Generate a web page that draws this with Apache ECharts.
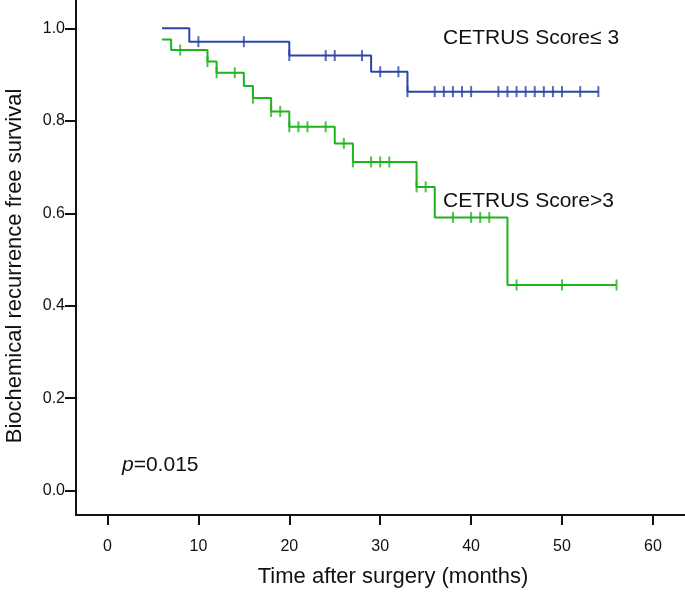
<!DOCTYPE html>
<html>
<head>
<meta charset="utf-8">
<script src="https://cdn.jsdelivr.net/npm/echarts@6/dist/echarts.min.js"></script>
<style>
html,body{margin:0;padding:0;background:#fff;}
#chart{width:685px;height:592px;}
</style>
</head>
<body>
<div id="chart"></div>
<script>
// ---- Data ----
const xTickValues = [0, 10, 20, 30, 40, 50, 60];
const yTickValues = [0, 0.2, 0.4, 0.6, 0.8, 1.0];

// CETRUS Score <= 3 (blue)
const lowStart = 6;
const lowStartSurv = 1.0;
const lowEventTimes = [9, 20, 29, 33];
const lowEventSurv = [0.971, 0.941, 0.906, 0.863];
const lowEnd = 54;
const lowCensorTimes = [10, 15, 20, 24, 25, 28, 30, 32, 33, 36, 37, 38, 39, 40, 43, 44, 45, 46, 47, 48, 49, 50, 52, 54];

// CETRUS Score > 3 (green)
const highStart = 6;
const highStartSurv = 0.976;
const highEventTimes = [7, 11, 12, 15, 16, 18, 20, 25, 27, 34, 36, 44];
const highEventSurv = [0.953, 0.928, 0.904, 0.875, 0.849, 0.820, 0.787, 0.751, 0.711, 0.657, 0.591, 0.445];
const highEnd = 56;
const highCensorTimes = [8, 11, 12, 14, 16, 18, 19, 20, 21, 22, 24, 26, 27, 29, 30, 31, 34, 35, 38, 40, 41, 42, 45, 50, 56];

// ---- Helpers ----
function stepPoints(start, s0, times, surv, end) {
  const pts = [[start, s0]];
  let prev = s0;
  for (let i = 0; i < times.length; i++) {
    pts.push([times[i], prev]);
    pts.push([times[i], surv[i]]);
    prev = surv[i];
  }
  pts.push([end, prev]);
  return pts;
}
function censorPoints(s0, times, surv, ctimes) {
  return ctimes.map(t => {
    let s = s0;
    for (let i = 0; i < times.length; i++) if (times[i] <= t) s = surv[i];
    return [t, s];
  });
}

const BLUE = '#2B44A6';
const GREEN = '#1EB41E';
const FONT = '"Liberation Sans", Arial, sans-serif';

const chart = echarts.init(document.getElementById('chart'), null, {renderer: 'canvas'});
chart.setOption({
  animation: false,
  backgroundColor: '#fff',
  grid: {left: 76, right: 0, top: 0, bottom: 77, containLabel: false},
  xAxis: {
    type: 'value', min: -3.465, max: 63.53,
    axisLine: {show: true, onZero: false, lineStyle: {color: '#111', width: 2}},
    axisTick: {show: true, length: 10, lineStyle: {color: '#111', width: 2}, customValues: xTickValues},
    axisLabel: {show: true, margin: 24, fontSize: 16, color: '#111', fontFamily: FONT, customValues: xTickValues, formatter: v => String(v)},
    splitLine: {show: false}
  },
  yAxis: {
    type: 'value', min: -0.0526, max: 1.0612,
    axisLine: {show: true, onZero: false, lineStyle: {color: '#111', width: 2}},
    axisTick: {show: true, length: 11, lineStyle: {color: '#111', width: 2}, customValues: yTickValues},
    axisLabel: {show: true, margin: 11, fontSize: 16, color: '#111', fontFamily: FONT, customValues: yTickValues, formatter: v => v.toFixed(1)},
    splitLine: {show: false}
  },
  series: [
    {type: 'line', name: 'low', data: stepPoints(lowStart, lowStartSurv, lowEventTimes, lowEventSurv, lowEnd),
     showSymbol: false, symbol: 'none', lineStyle: {color: BLUE, width: 2}, z: 3},
    {type: 'line', name: 'high', data: stepPoints(highStart, highStartSurv, highEventTimes, highEventSurv, highEnd),
     showSymbol: false, symbol: 'none', lineStyle: {color: GREEN, width: 2}, z: 2},
    {type: 'scatter', data: censorPoints(lowStartSurv, lowEventTimes, lowEventSurv, lowCensorTimes),
     symbol: 'rect', symbolSize: [2, 11], itemStyle: {color: BLUE}, z: 4},
    {type: 'scatter', data: censorPoints(highStartSurv, highEventTimes, highEventSurv, highCensorTimes),
     symbol: 'rect', symbolSize: [2, 11], itemStyle: {color: GREEN}, z: 4}
  ],
  graphic: [
    {type: 'text', x: 443, y: 38, style: {text: 'CETRUS Score\u2264 3', font: '21px ' + FONT, fill: '#111', verticalAlign: 'middle', textVerticalAlign: 'middle'}},
    {type: 'text', x: 443, y: 201, style: {text: 'CETRUS Score>3', font: '21px ' + FONT, fill: '#111', verticalAlign: 'middle', textVerticalAlign: 'middle'}},
    {type: 'text', x: 122, y: 465, style: {text: '{i|p}{n|=0.015}', fill: '#111', verticalAlign: 'middle', textVerticalAlign: 'middle',
      rich: {i: {fontStyle: 'italic', fontSize: 21, fontFamily: FONT, fill: '#111'}, n: {fontSize: 21, fontFamily: FONT, fill: '#111'}}}},
    {type: 'text', x: 393, y: 577, style: {text: 'Time after surgery (months)', font: '22px ' + FONT, fill: '#111', align: 'center', textAlign: 'center', verticalAlign: 'middle', textVerticalAlign: 'middle'}},
    {type: 'text', x: 15, y: 266, rotation: Math.PI / 2, style: {text: 'Biochemical recurrence free survival', font: '22px ' + FONT, fill: '#111', align: 'center', textAlign: 'center', verticalAlign: 'middle', textVerticalAlign: 'middle'}}
  ]
});
</script>
</body>
</html>
